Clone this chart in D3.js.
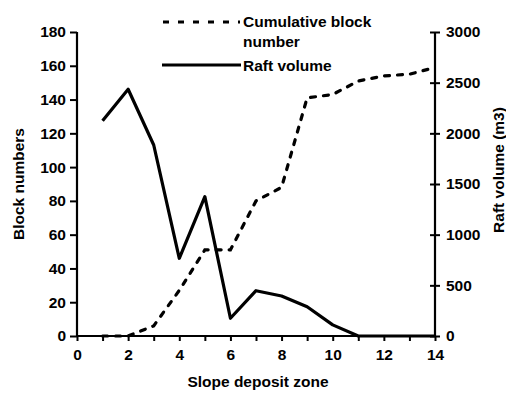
<!DOCTYPE html>
<html>
<head>
<meta charset="utf-8">
<script src="https://cdn.jsdelivr.net/npm/d3@7"></script>
<style>
  html, body { margin: 0; padding: 0; background: #fff; }
  svg { display: block; }
  text { font-family: "Liberation Sans", Arial, sans-serif; font-weight: bold; fill: #000; }
</style>
</head>
<body>
<svg id="chart" width="506" height="394"></svg>
<script>
// Slope deposit zones along the x axis
const zones = [1, 2, 3, 4, 5, 6, 7, 8, 9, 10, 11, 12, 13, 14];
// Cumulative number of blocks per zone (left axis)
const cumulativeBlocks = [0, 0, 6, 27, 51, 51, 80, 88, 141, 143, 151, 154, 155, 159];
// Raft volume per zone in m3 (right axis)
const raftVolume = [2125, 2435, 1885, 767, 1375, 175, 447, 395, 289, 110, 0, 0, 0, 0];

const xTicks = [0, 1, 2, 3, 4, 5, 6, 7, 8, 9, 10, 11, 12, 13, 14];
const leftTicks = [0, 20, 40, 60, 80, 100, 120, 140, 160, 180];
const rightTicks = [0, 500, 1000, 1500, 2000, 2500, 3000];

const svg = d3.select("#chart");
const plot = { left: 77, right: 435, top: 32, bottom: 336 };

const x = d3.scaleLinear().domain([0, 14]).range([plot.left, plot.right]);
const yL = d3.scaleLinear().domain([0, 180]).range([plot.bottom, plot.top]);
const yR = d3.scaleLinear().domain([0, 3000]).range([plot.bottom, plot.top]);

const fontSize = "15.5px";

// Left axis: block numbers
const gL = svg.append("g").attr("transform", `translate(${plot.left},0)`)
  .call(d3.axisLeft(yL).tickValues(leftTicks).tickSize(7).tickPadding(4));
// Right axis: raft volume, ticks crossing the axis line
const gR = svg.append("g").attr("transform", `translate(${plot.right},0)`)
  .call(d3.axisRight(yR).tickValues(rightTicks).tickSize(5).tickPadding(6)
    .tickFormat(d3.format("d")));
gR.selectAll(".tick line").attr("x1", -5);
// Bottom axis: a tick at every zone, labels on even zones
const gX = svg.append("g").attr("transform", `translate(0,${plot.bottom})`)
  .call(d3.axisBottom(x).tickValues(xTicks).tickSize(5).tickPadding(8)
    .tickFormat(d => d % 2 === 0 ? d : ""));

[gL, gR, gX].forEach(g => {
  g.select(".domain").attr("stroke", "#000").attr("stroke-width", 2.2);
  g.selectAll(".tick line").attr("stroke", "#000").attr("stroke-width", 2);
  g.selectAll(".tick text").style("font-size", fontSize)
    .style("font-family", "'Liberation Sans', Arial, sans-serif").style("font-weight", "bold");
});
gL.select(".domain").attr("d", `M0,${plot.bottom}V${plot.top}`);
gR.select(".domain").attr("d", `M0,${plot.bottom}V${plot.top}`);
gX.select(".domain").attr("d", `M${plot.left},0H${plot.right}`);

// Raft volume line (solid)
const lineR = d3.line().x((d, i) => x(zones[i])).y(d => yR(d));
svg.append("path").datum(raftVolume)
  .attr("d", lineR).attr("fill", "none").attr("stroke", "#000")
  .attr("stroke-width", 3.2).attr("stroke-linejoin", "round");

// Cumulative block number line (dashed)
const lineL = d3.line().x((d, i) => x(zones[i])).y(d => yL(d));
svg.append("path").datum(cumulativeBlocks)
  .attr("d", lineL).attr("fill", "none").attr("stroke", "#000")
  .attr("stroke-width", 3.2).attr("stroke-dasharray", "5,8").attr("stroke-linecap", "round");

// Axis titles
svg.append("text").attr("transform", `translate(24,184) rotate(-90)`)
  .attr("text-anchor", "middle").style("font-size", fontSize).text("Block numbers");
svg.append("text").attr("transform", `translate(504,170) rotate(-90)`)
  .attr("text-anchor", "middle").style("font-size", fontSize).text("Raft volume (m3)");
svg.append("text").attr("x", 258).attr("y", 387)
  .attr("text-anchor", "middle").style("font-size", fontSize).text("Slope deposit zone");

// Legend
const legend = svg.append("g");
legend.append("line").attr("x1", 163).attr("x2", 240).attr("y1", 22).attr("y2", 22)
  .attr("stroke", "#000").attr("stroke-width", 3).attr("stroke-dasharray", "6,9");
legend.append("text").attr("x", 243).attr("y", 22).attr("dy", "0.35em")
  .style("font-size", fontSize).text("Cumulative block");
legend.append("text").attr("x", 243).attr("y", 42).attr("dy", "0.35em")
  .style("font-size", fontSize).text("number");
legend.append("line").attr("x1", 162).attr("x2", 241).attr("y1", 65).attr("y2", 65)
  .attr("stroke", "#000").attr("stroke-width", 3);
legend.append("text").attr("x", 243).attr("y", 66).attr("dy", "0.35em")
  .style("font-size", fontSize).text("Raft volume");
</script>
</body>
</html>
